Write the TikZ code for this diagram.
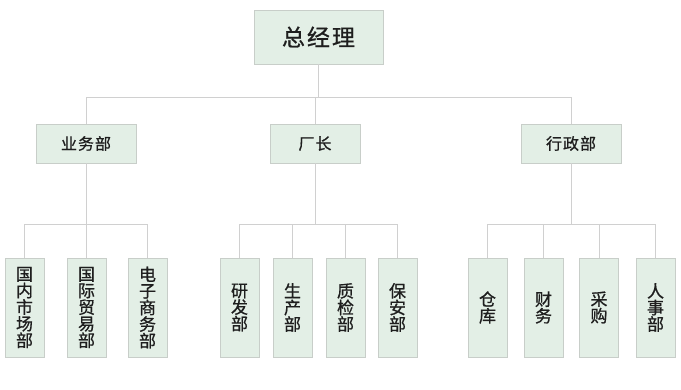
\documentclass[tikz,border=0pt]{standalone}
\usepackage{fontspec}
\newfontfamily\cjk[FakeBold=0.8]{Noto Sans CJK SC}
\definecolor{boxfill}{HTML}{E3EFE6}
\definecolor{boxline}{HTML}{C8CEC9}
\definecolor{linecol}{HTML}{D0D0D0}
\definecolor{txt}{HTML}{1E1E1E}
\tikzset{
  box/.style={draw=boxline, fill=boxfill, line width=0.9pt, inner sep=0pt, text=txt, align=center},
  topbox/.style={box, minimum width=129pt, minimum height=54pt, font=\cjk\fontsize{23}{26}\selectfont},
  midbox/.style={box, minimum width=100pt, minimum height=39pt, font=\cjk\fontsize{16}{18}\selectfont},
  leafbox/.style={box, minimum width=39pt, minimum height=99pt, font=\cjk\fontsize{17}{16.6}\selectfont},
  conn/.style={draw=linecol, line width=0.9pt}
}
\newcommand{\gapsp}[1]{\hspace{#1}}
\begin{document}
\begin{tikzpicture}[x=1pt,y=1pt]
\useasboundingbox (0,0) rectangle (681,-389);
% top
\node[topbox] (gm) at (318.5,-37) {总\gapsp{2pt}经\gapsp{2pt}理};
% level 2
\node[midbox] (yw) at (86,-143.5) {业\gapsp{1pt}务\gapsp{1pt}部};
\node[midbox, minimum width=90pt] (cz) at (315,-143.5) {厂\gapsp{1pt}长};
\node[midbox] (xz) at (571,-143.5) {行\gapsp{1pt}政\gapsp{1pt}部};
% level 3
\node[leafbox] (a1) at (24.5,-307.5) {国\\内\\市\\场\\部};
\node[leafbox] (a2) at (86.5,-307.5) {国\\际\\贸\\易\\部};
\node[leafbox] (a3) at (147.5,-307.5) {电\\子\\商\\务\\部};
\node[leafbox] (b1) at (239.5,-307.5) {研\\发\\部};
\node[leafbox] (b2) at (292.5,-307.5) {生\\产\\部};
\node[leafbox] (b3) at (345.5,-307.5) {质\\检\\部};
\node[leafbox] (b4) at (397.5,-307.5) {保\\安\\部};
\node[leafbox] (c1) at (487.5,-307.5) {仓\\库};
\node[leafbox] (c2) at (543.5,-307.5) {财\\务};
\node[leafbox] (c3) at (599,-307.5) {采\\购};
\node[leafbox] (c4) at (655.5,-307.5) {人\\事\\部};
% bus coordinates
\coordinate (bus0) at (0,-97);
\coordinate (bus1) at (0,-224);
% level 1 -> 2
\draw[conn] (gm.south) -- (gm.south |- bus0);
\draw[conn] (yw.north |- bus0) -- (xz.north |- bus0);
\foreach \n in {yw,cz,xz} \draw[conn] (\n.north |- bus0) -- (\n.north);
% level 2 -> 3
\draw[conn] (yw.south) -- (yw.south |- bus1);
\draw[conn] (a1.north |- bus1) -- (a3.north |- bus1);
\foreach \n in {a1,a2,a3} \draw[conn] (\n.north |- bus1) -- (\n.north);
\draw[conn] (cz.south) -- (cz.south |- bus1);
\draw[conn] (b1.north |- bus1) -- (b4.north |- bus1);
\foreach \n in {b1,b2,b3,b4} \draw[conn] (\n.north |- bus1) -- (\n.north);
\draw[conn] (xz.south) -- (xz.south |- bus1);
\draw[conn] (c1.north |- bus1) -- (c4.north |- bus1);
\foreach \n in {c1,c2,c3,c4} \draw[conn] (\n.north |- bus1) -- (\n.north);
\end{tikzpicture}
\end{document}
